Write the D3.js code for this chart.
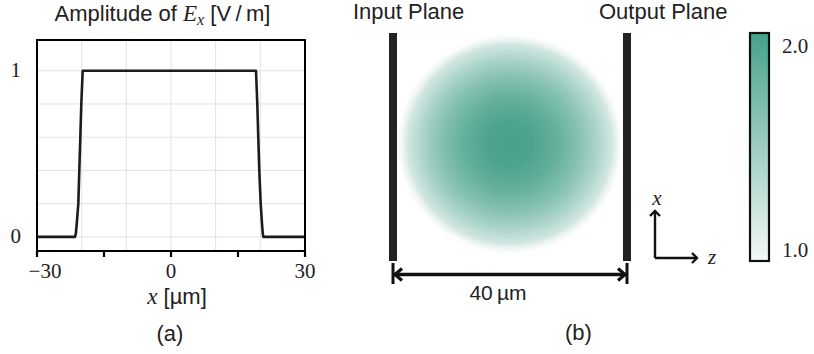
<!DOCTYPE html>
<html>
<head>
<meta charset="utf-8">
<script src="https://cdn.jsdelivr.net/npm/d3@7"></script>
<style>
  html, body { margin: 0; padding: 0; background: #fff; }
  .sans { font-family: "Liberation Sans", Arial, sans-serif; }
  .serif { font-family: "Liberation Serif", "Times New Roman", serif; }
</style>
</head>
<body>
<svg id="fig" width="814" height="354"></svg>
<script>
// ---- Panel (a): field amplitude across the input plane ----
const profileX = [-30, -21.5, -21.3, -21.1, -20.75, -20.53, -20.3, -20.08, -19.77,
                  19.03, 19.32, 19.54, 19.77, 20.08, 20.37, 20.55, 20.66, 30];
const profileE = [0, 0, 0.02, 0.08, 0.2, 0.4, 0.6, 0.8, 1,
                  1, 0.8, 0.6, 0.4, 0.2, 0.08, 0.02, 0, 0];
const xTicks = [-30, -15, 0, 15, 30];
const xTickLabels = ["\u221230", "", "0", "", "30"];
const xGrid = [-20, -10, 0, 10, 20];
const yGrid = [0, 0.2, 0.4, 0.6, 0.8, 1];
const yTickValues = [0, 1];
const yTickLabels = ["0", "1"];

// ---- Panel (b): graded-index slab between two planes ----
const slabLength = 40;            // µm, distance between the planes
const slabHalfWidth = 20;         // µm, transverse half-extent
const lensRadius = 19.5;          // µm
const indexRadius = [0, 0.2, 0.4, 0.6, 0.7, 0.8, 0.9, 1];   // r / R
const indexValue = [2, 1.96, 1.84, 1.64, 1.51, 1.36, 1.19, 1];
const colorbarTicks = [1, 2];
const colorbarLabels = ["1.0", "2.0"];
const planeLabels = ["Input Plane", "Output Plane"];

const svg = d3.select("#fig");
const ink = "#1c1c1c";

// Scales for panel (a)
const xA = d3.scaleLinear().domain([-30, 30]).range([37, 305]);
const yA = d3.scaleLinear().domain([-0.085, 1.185]).range([251, 40]);

const gA = svg.append("g");
gA.selectAll("line.gx").data(xGrid).join("line")
  .attr("x1", d => xA(d)).attr("x2", d => xA(d))
  .attr("y1", yA.range()[0]).attr("y2", yA.range()[1])
  .attr("stroke", "#e2e2e2").attr("stroke-width", 1);
gA.selectAll("line.gy").data(yGrid).join("line")
  .attr("y1", d => yA(d)).attr("y2", d => yA(d))
  .attr("x1", xA.range()[0]).attr("x2", xA.range()[1])
  .attr("stroke", "#e2e2e2").attr("stroke-width", 1);

// curve
const line = d3.line().x((d, i) => xA(profileX[i])).y(d => yA(d));
gA.append("path").datum(profileE)
  .attr("d", line).attr("fill", "none")
  .attr("stroke", ink).attr("stroke-width", 2.6)
  .attr("stroke-linejoin", "round");

// frame
gA.append("rect")
  .attr("x", xA.range()[0]).attr("y", yA.range()[1])
  .attr("width", xA.range()[1] - xA.range()[0])
  .attr("height", yA.range()[0] - yA.range()[1])
  .attr("fill", "none").attr("stroke", "#000").attr("stroke-width", 2);

// x ticks
gA.selectAll("line.xt").data(xTicks).join("line")
  .attr("x1", d => xA(d)).attr("x2", d => xA(d))
  .attr("y1", yA.range()[0]).attr("y2", yA.range()[0] + 6)
  .attr("stroke", "#000").attr("stroke-width", 2.2);
gA.selectAll("text.xl").data(xTicks).join("text")
  .attr("class", "serif")
  .attr("x", d => xA(d)).attr("y", 277.5)
  .attr("dx", (d, i) => xTickLabels[i].startsWith("\u2212") ? 8 : 0)
  .attr("text-anchor", "middle").attr("font-size", 21).attr("fill", "#222")
  .text((d, i) => xTickLabels[i]);

// y tick labels
gA.selectAll("text.yl").data(yTickValues).join("text")
  .attr("class", "serif")
  .attr("x", 21).attr("y", d => yA(d) + 6)
  .attr("text-anchor", "end").attr("font-size", 21).attr("fill", "#222")
  .text((d, i) => yTickLabels[i]);

// title
const title = svg.append("text").attr("class", "sans")
  .attr("x", 162.5).attr("y", 20.7).attr("text-anchor", "middle")
  .attr("font-size", 22).attr("fill", "#222");
title.append("tspan").text("Amplitude of ");
title.append("tspan").attr("class", "serif").attr("font-style", "italic").attr("font-size", 23).text("E");
title.append("tspan").attr("class", "serif").attr("font-style", "italic").attr("font-size", 16).attr("dy", 4).text("x");
title.append("tspan").attr("dy", -4).text(" [V\u2009/\u2009m]");

// x label
const xl = svg.append("text").attr("class", "sans")
  .attr("x", 177).attr("y", 304).attr("text-anchor", "middle")
  .attr("font-size", 22).attr("fill", "#222");
xl.append("tspan").attr("class", "serif").attr("font-style", "italic").attr("font-size", 23).text("x");
xl.append("tspan").text(" [\u00b5m]");

svg.append("text").attr("class", "sans")
  .attr("x", 170).attr("y", 341).attr("text-anchor", "middle")
  .attr("font-size", 22).attr("fill", "#222").text("(a)");

// ---- Panel (b) ----
const zB = d3.scaleLinear().domain([0, slabLength]).range([393, 627]);
const tB = d3.scaleLinear().domain([-slabHalfWidth, slabHalfWidth]).range([261, 33]);
const nColor = d3.scaleLinear().domain([1, 2]).range(["#f4f8f7", "#46a18a"]);

const defs = svg.append("defs");
const rg = defs.append("radialGradient").attr("id", "lensGrad")
  .attr("cx", "50%").attr("cy", "50%").attr("r", "50%");
rg.selectAll("stop").data(indexValue).join("stop")
  .attr("offset", (d, i) => indexRadius[i])
  .attr("stop-color", d => nColor(d))
  .attr("stop-opacity", (d, i) => i === indexValue.length - 1 ? 0 : 1);

svg.append("ellipse")
  .attr("cx", zB(slabLength / 2)).attr("cy", tB(0) - 3)
  .attr("rx", zB(lensRadius) - zB(0))
  .attr("ry", tB(0) - tB(lensRadius))
  .attr("fill", "url(#lensGrad)");

// planes
svg.selectAll("rect.plane").data([0, slabLength]).join("rect")
  .attr("x", d => zB(d) - 4).attr("width", 8)
  .attr("y", tB(slabHalfWidth)).attr("height", tB(-slabHalfWidth) - tB(slabHalfWidth))
  .attr("fill", "#222");

svg.selectAll("text.pl").data(planeLabels).join("text")
  .attr("class", "sans")
  .attr("x", (d, i) => i === 0 ? 353 : 599).attr("y", 18.5)
  .attr("font-size", 22).attr("fill", "#222").text(d => d);

// dimension line
const dimY = 274.5;
const gD = svg.append("g").attr("stroke", "#111").attr("fill", "none");
gD.append("line").attr("x1", zB(0) + 1).attr("x2", zB(slabLength) - 1)
  .attr("y1", dimY).attr("y2", dimY).attr("stroke-width", 3.5);
gD.selectAll("line.end").data([0, slabLength]).join("line")
  .attr("x1", d => zB(d)).attr("x2", d => zB(d))
  .attr("y1", 263).attr("y2", 284).attr("stroke-width", 3);
gD.append("path")
  .attr("d", `M${zB(0) + 9},${dimY - 6}L${zB(0) + 2},${dimY}L${zB(0) + 9},${dimY + 6}`)
  .attr("stroke-width", 3.2);
gD.append("path")
  .attr("d", `M${zB(slabLength) - 9},${dimY - 6}L${zB(slabLength) - 2},${dimY}L${zB(slabLength) - 9},${dimY + 6}`)
  .attr("stroke-width", 3.2);
svg.append("text").attr("class", "sans")
  .attr("x", 498).attr("y", 300).attr("text-anchor", "middle")
  .attr("font-size", 21).attr("fill", "#222").text("40\u2009\u00b5m");

svg.append("text").attr("class", "sans")
  .attr("x", 578.5).attr("y", 340).attr("text-anchor", "middle")
  .attr("font-size", 22).attr("fill", "#222").text("(b)");

// coordinate icon
const ox = 655, oy = 258;
const gI = svg.append("g").attr("stroke", "#111").attr("fill", "none").attr("stroke-width", 2.4);
gI.append("path").attr("d", `M${ox},${oy}L${ox},${oy - 47}M${ox},${oy}L${ox + 42},${oy}`);
gI.append("path").attr("d", `M${ox - 5},${oy - 42}L${ox},${oy - 47}L${ox + 5},${oy - 42}`);
gI.append("path").attr("d", `M${ox + 37},${oy - 5}L${ox + 42},${oy}L${ox + 37},${oy + 5}`);
svg.append("text").attr("class", "serif").attr("font-style", "italic")
  .attr("x", 657).attr("y", 205).attr("text-anchor", "middle")
  .attr("font-size", 21).attr("fill", "#222").text("x");
svg.append("text").attr("class", "serif").attr("font-style", "italic")
  .attr("x", 708).attr("y", 264)
  .attr("font-size", 21).attr("fill", "#222").text("z");

// colorbar
const cb = d3.scaleLinear().domain([1, 2]).range([261, 33]);
const lg = defs.append("linearGradient").attr("id", "cbGrad")
  .attr("x1", 0).attr("y1", 1).attr("x2", 0).attr("y2", 0);
lg.selectAll("stop").data([1, 1.25, 1.5, 1.75, 2]).join("stop")
  .attr("offset", d => (d - 1))
  .attr("stop-color", d => nColor(d));
svg.append("rect")
  .attr("x", 750).attr("width", 19)
  .attr("y", cb(2)).attr("height", cb(1) - cb(2))
  .attr("fill", "url(#cbGrad)").attr("stroke", "#111").attr("stroke-width", 2.2);
svg.selectAll("text.cb").data(colorbarTicks).join("text")
  .attr("class", "serif")
  .attr("x", 782).attr("y", d => d === 2 ? cb(d) + 19.5 : cb(d) - 4)
  .attr("font-size", 21).attr("fill", "#222")
  .text((d, i) => colorbarLabels[i]);
</script>
</body>
</html>
